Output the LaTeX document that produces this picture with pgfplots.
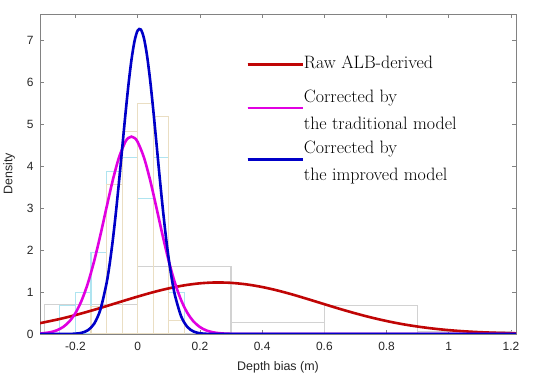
\documentclass[border=0pt]{standalone}
\usepackage{fontspec}
\newfontfamily\sansf{Liberation Sans}
\usepackage{pgfplots}
\pgfplotsset{compat=1.18}
\definecolor{rawc}{RGB}{192,5,5}
\definecolor{tradc}{RGB}{225,0,225}
\definecolor{impc}{RGB}{0,0,200}
\definecolor{rawh}{RGB}{210,210,210}
\definecolor{tradh}{RGB}{175,228,240}
\definecolor{imph}{RGB}{234,222,195}
\definecolor{axc}{RGB}{130,130,130}
\pgfplotsset{
  mylegend/.style={anchor=north west, draw=none, fill=none,
    font=\fontsize{18}{25.5}\selectfont, row sep=7.5bp, inner sep=0pt,
    nodes={inner sep=0pt, text height=12.5bp, text depth=4bp}, cells={anchor=west}},
  myimage/.style={legend image code/.code={\draw[##1, line width=1.5bp] (0bp,0bp) -- (47bp,0bp); \path (0bp,0bp) -- (55bp,0bp);}},
}
\begin{document}
\begin{tikzpicture}
\begin{axis}[
  scale only axis, width=476bp, height=320bp,
  xmin=-0.314, xmax=1.216, ymin=0, ymax=7.62,
  xtick={-0.2,0,0.2,0.4,0.6,0.8,1,1.2},
  ytick={0,1,2,3,4,5,6,7},
  axis line style={axc, line width=0.8bp},
  tick style={axc, line width=0.8bp},
  major tick length=4bp,
  tick align=inside,
  /pgf/number format/assume math mode=true,
  tick label style={font=\sansf\fontsize{12}{14}\selectfont, text=black!85},
  xticklabel style={yshift=-5bp},
  yticklabel style={xshift=-3bp},
  xlabel={Depth bias (m)}, ylabel={Density},
  label style={font=\sansf\fontsize{12.5}{15}\selectfont, text=black!85},
  xlabel style={at={(axis description cs:0.5,-0.103)}, anchor=center},
  ylabel style={at={(axis description cs:-0.065,0.5)}, anchor=center},
  legend style={mylegend, at={(0.433,0.8695)}},
  myimage,
]
% histograms
\addplot[ybar interval, draw=rawh, fill=none, line width=1.1bp, forget plot] coordinates {
(-0.3,0.7) (0,1.6) (0.3,0.27) (0.6,0.68) (0.9,0.05) (1.2,0.05)};
\addplot[ybar interval, draw=tradh, fill=none, line width=1.1bp, forget plot] coordinates {
(-0.25,0.68) (-0.2,0.98) (-0.15,1.93) (-0.1,3.88) (-0.05,4.2) (0,3.23) (0.05,4.2) (0.1,0.98) (0.15,0.98)};
\addplot[ybar interval, draw=imph, fill=none, line width=1.1bp, forget plot] coordinates {
(-0.15,0.65) (-0.1,3.55) (-0.05,4.83) (0,5.48) (0.05,5.17) (0.1,0.33) (0.15,0.33)};
% fitted curves
\addplot[rawc, line width=2.6bp, smooth] coordinates {
(-0.314,0.258) (-0.25,0.358) (-0.2,0.451) (-0.15,0.554) (-0.1,0.665) (-0.05,0.779)
(0,0.891) (0.05,0.996) (0.1,1.087) (0.15,1.159) (0.2,1.207) (0.25,1.227) (0.3,1.218)
(0.35,1.181) (0.4,1.119) (0.45,1.035) (0.5,0.935) (0.55,0.824) (0.6,0.710) (0.65,0.597)
(0.7,0.491) (0.75,0.394) (0.8,0.309) (0.85,0.236) (0.9,0.177) (0.95,0.129) (1,0.092)
(1.05,0.064) (1.1,0.0435) (1.15,0.0289) (1.216,0.0162)};
\addlegendentry{Raw ALB-derived}
\addplot[tradc, line width=2.6bp, smooth, forget plot] coordinates {
(-0.314,0.0119) (-0.3,0.0207) (-0.28,0.0437) (-0.26,0.0873) (-0.24,0.165) (-0.22,0.295)
(-0.2,0.499) (-0.18,0.800) (-0.16,1.211) (-0.14,1.735) (-0.12,2.352) (-0.1,3.018)
(-0.08,3.664) (-0.06,4.207) (-0.04,4.572) (-0.03,4.668) (-0.02,4.70) (-0.01,4.668)
(0,4.572) (0.02,4.207) (0.04,3.664) (0.06,3.018) (0.08,2.352) (0.1,1.735) (0.12,1.211)
(0.14,0.800) (0.16,0.499) (0.18,0.295) (0.2,0.165) (0.22,0.0873) (0.24,0.0437)
(0.26,0.0207) (0.28,0.0093) (0.3,0.0039) (0.34,0.0005) (0.4,0) (0.6,0) (0.8,0) (1,0) (1.216,0)};
\addplot[impc, line width=2.6bp, smooth, forget plot] coordinates {
(-0.314,0) (-0.26,0.0002) (-0.22,0.002) (-0.2,0.0084) (-0.18,0.029) (-0.16,0.090) (-0.14,0.243)
(-0.12,0.578) (-0.1,1.212) (-0.09,1.673) (-0.08,2.236) (-0.07,2.895) (-0.06,3.630)
(-0.05,4.409) (-0.04,5.189) (-0.03,5.913) (-0.02,6.527) (-0.01,6.979) (0,7.228)
(0.01,7.251) (0.02,7.046) (0.03,6.632) (0.04,6.046) (0.05,5.339) (0.06,4.567)
(0.07,3.783) (0.08,3.037) (0.09,2.361) (0.1,1.777) (0.11,1.296) (0.12,0.915)
(0.14,0.415) (0.16,0.166) (0.18,0.058) (0.2,0.018) (0.22,0.005) (0.25,0.001)
(0.3,0) (0.6,0) (0.9,0) (1.216,0)};
\end{axis}
% second, hidden axis of the same size carrying the legend of the two corrected fits
\begin{axis}[
  scale only axis, width=476bp, height=320bp,
  xmin=-0.314, xmax=1.216, ymin=0, ymax=7.62,
  hide axis,
  legend style={mylegend, at={(0.433,0.7633)}},
  myimage,
]
\addlegendimage{tradc, line width=2.6bp, legend image post style={yshift=-10bp}}
\addlegendentry{Corrected by}
\addlegendimage{empty legend}
\addlegendentry{the traditional model}
\addlegendimage{impc, line width=2.6bp, legend image post style={yshift=-10bp}}
\addlegendentry{Corrected by}
\addlegendimage{empty legend}
\addlegendentry{the improved model}
\end{axis}
\pgfresetboundingbox
\path (current axis.south west) ++(-40bp,-48bp) rectangle ++(550bp,382bp);
\end{tikzpicture}
\end{document}
